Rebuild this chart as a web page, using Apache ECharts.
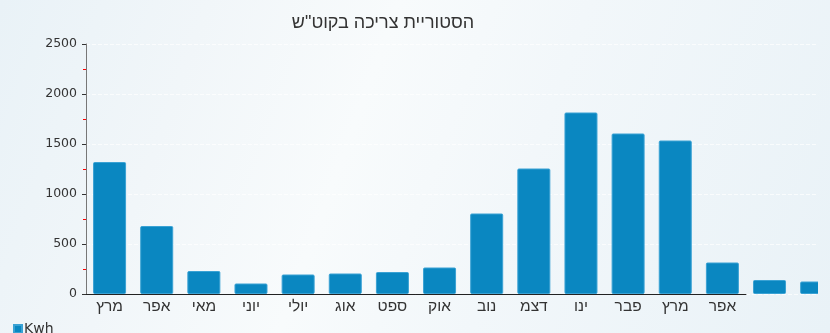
<!DOCTYPE html>
<html>
<head>
<meta charset="utf-8">
<script src="https://cdn.jsdelivr.net/npm/echarts@6/dist/echarts.min.js"></script>
<style>
html,body{margin:0;padding:0;}
body{width:830px;height:333px;overflow:hidden;
background:linear-gradient(110deg,#e9f2f7 0%,#f1f6f9 22%,#f8fbfc 42%,#f2f7fa 62%,#e9f2f7 100%);}
#wrap{width:818px;height:333px;overflow:hidden;}
#c{width:860px;height:333px;}
</style>
</head>
<body>
<div id="wrap"><div id="c"></div></div>
<script>
const title = 'הסטוריית צריכה בקוט"ש';
const seriesName = 'Kwh';
const months = ['מרץ','אפר','מאי','יוני','יולי','אוג','ספט','אוק','נוב','דצמ','ינו','פבר','מרץ','אפר','',''];
const values = [1320, 680, 230, 105, 195, 205, 220, 265, 805, 1255, 1815, 1605, 1535, 315, 140, 125];
const yTicks = [0, 500, 1000, 1500, 2000, 2500];
const labeledCount = 14;

const chart = echarts.init(document.getElementById('c'), null, {renderer:'canvas'});
const numFont = '"DejaVu Sans", "Liberation Sans", Arial, sans-serif';
const hebFont = '"Liberation Sans", Arial, sans-serif';
const catW = 47.14;
chart.setOption({
  backgroundColor: 'transparent',
  animation: false,
  textStyle: {fontFamily: hebFont},
  title: {
    text: title, left: 378, top: 9, textAlign: 'center',
    textStyle: {fontSize: 18, fontWeight: 'normal', color: '#333', fontFamily: hebFont}
  },
  legend: {
    show: true, left: 8, top: 317, itemWidth: 8, itemHeight: 8, itemGap: 4,
    icon: 'rect', data: [seriesName],
    textStyle: {fontSize: 14, color: '#333', padding: [0,0,0,-3], fontFamily: numFont}
  },
  grid: [
    {left: 86, top: 44, width: catW * months.length, height: 250, containLabel: false},
    {left: 86, top: 44, width: catW * labeledCount, height: 250, containLabel: false}
  ],
  xAxis: [
    {type: 'category', gridIndex: 0, data: months,
      axisLine: {show: false}, axisTick: {show: false},
      axisLabel: {fontSize: 15.5, color: '#333', margin: 5, interval: 0, fontFamily: hebFont}},
    {type: 'category', gridIndex: 1, data: months.slice(0, labeledCount),
      axisLine: {show: true, lineStyle: {color: '#222', width: 1}},
      axisTick: {show: false}, axisLabel: {show: false}}
  ],
  yAxis: [
    {type: 'value', gridIndex: 0, min: yTicks[0], max: yTicks[yTicks.length-1], interval: 500,
      axisLine: {show: true, lineStyle: {color: '#777', width: 1}},
      axisTick: {show: true, length: 4, lineStyle: {color: '#333'}},
      minorTick: {show: true, splitNumber: 2, length: 3, lineStyle: {color: '#ff0000', width: 1}},
      axisLabel: {fontSize: 12.5, color: '#333', margin: 9, fontFamily: numFont,
        formatter: function (v) { return String(v); }},
      splitLine: {show: true, lineStyle: {color: 'rgba(255,255,255,0.7)', type: 'dashed'}}},
    {type: 'value', gridIndex: 1, min: yTicks[0], max: yTicks[yTicks.length-1], show: false}
  ],
  series: [{
    name: seriesName, type: 'bar', xAxisIndex: 0, yAxisIndex: 0,
    data: values, barWidth: '70%',
    itemStyle: {color: '#0a87c1', borderColor: '#3aa2d4', borderWidth: 1, borderRadius: 1}
  }]
});
</script>
</body>
</html>
